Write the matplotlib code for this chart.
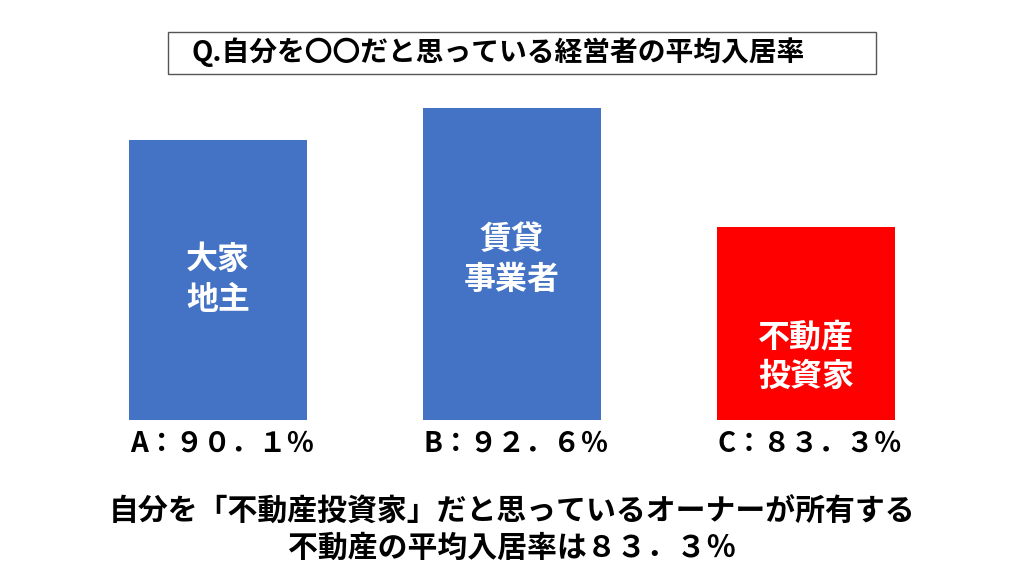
import matplotlib
matplotlib.use("Agg")
import matplotlib.pyplot as plt
from matplotlib.patches import Rectangle

plt.rcParams['font.family'] = ['Noto Sans CJK JP', 'DejaVu Sans']

categories = ["大家\n地主", "賃貸\n事業者", "不動産\n投資家"]
values = [90.1, 92.6, 83.3]
value_labels = ["A：９０．１％", "B：９２．６％", "C：８３．３％"]
colors = ["#4472C4", "#4472C4", "#FF0000"]

fig = plt.figure(figsize=(10.24, 5.76), dpi=100)
ax = fig.add_axes([71/1024, 1-420/576, 882/1024, 420/576])
ax.set_xlim(-0.5, 2.5)
base = 68.2
ax.set_ylim(base, base + 420/12.8)
x = range(len(values))
bars = ax.bar(x, [v - base for v in values], bottom=base, width=0.605, color=colors)
ax.axis('off')
mids = [base + 140/12.8, base + 160/12.8, base + 63/12.8]
for i, (c, m) in enumerate(zip(categories, mids)):
    ax.text(i, m, c, ha='center', va='center', color='white', fontsize=23,
            fontweight='bold', linespacing=1.3)

for i, lab in enumerate(value_labels):
    fig.text((222 + 294*i)/1024, 1-444/576, lab, ha='center', va='center',
             fontsize=20, fontweight='bold')

fig.patches.append(Rectangle((168/1024, 1-74/576), 708/1024, 42/576,
                             transform=fig.transFigure, fill=False,
                             edgecolor='#555555', linewidth=1))
fig.text(498/1024, 1-52/576, "Q.自分を〇〇だと思っている経営者の平均入居率",
         ha='center', va='center', fontsize=20, fontweight='bold')

fig.text(512/1024, 1-512/576, "自分を「不動産投資家」だと思っているオーナーが所有する",
         ha='center', va='center', fontsize=21.5, fontweight='bold')
fig.text(512/1024, 1-548/576, "不動産の平均入居率は８３．３％",
         ha='center', va='center', fontsize=21.5, fontweight='bold')

fig.savefig("out.png", dpi=100)
